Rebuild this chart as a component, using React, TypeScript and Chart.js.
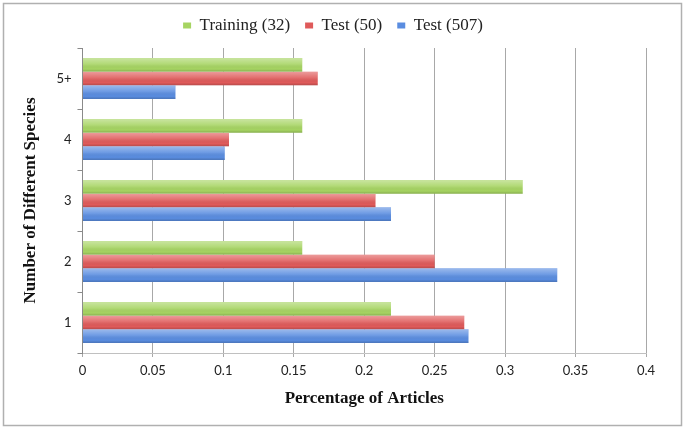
import React, { useEffect, useRef } from "react";
import { Chart, registerables } from "chart.js";

Chart.register(...registerables);

// categories, top to bottom as drawn
const categories = ["5+", "4", "3", "2", "1"];
const training32 = [0.156, 0.156, 0.3125, 0.156, 0.219];
const test50 = [0.167, 0.104, 0.208, 0.25, 0.271];
const test507 = [0.066, 0.101, 0.219, 0.337, 0.274];
const seriesLabels = ["Training (32)", "Test (50)", "Test (507)"];
const xMin = 0;
const xMax = 0.4;
const xStep = 0.05;

const SERIF = "'Liberation Serif', 'Times New Roman', serif";
const SANS = "Lato, 'Liberation Sans', sans-serif";

const framePlugin = {
  id: "frame",
  beforeDraw(chart: any) {
    const c = chart.ctx;
    c.save();
    c.fillStyle = "#ffffff";
    c.fillRect(0, 0, chart.width, chart.height);
    c.strokeStyle = "#b0b0b0";
    c.lineWidth = 1.5;
    c.strokeRect(3.5, 3.5, chart.width - 7, chart.height - 7);
    c.restore();
  },
};

const legendGapPlugin = {
  id: "legendGap",
  beforeInit(chart: any) {
    const lg = chart.legend;
    if (!lg) return;
    const orig = lg.fit;
    lg.fit = function () {
      orig.call(this);
      this.height += 4;
    };
  },
};

const shinePlugin = {
  id: "shine",
  afterDatasetsDraw(chart: any) {
    const c = chart.ctx;
    c.save();
    chart.data.datasets.forEach((_d: any, i: number) => {
      const meta = chart.getDatasetMeta(i);
      if (meta.hidden) return;
      meta.data.forEach((el: any) => {
        const top = el.y - el.height / 2;
        const bot = el.y + el.height / 2;
        const left = Math.min(el.x, el.base);
        const w = Math.abs(el.x - el.base);
        const g = c.createLinearGradient(0, top, 0, bot);
        g.addColorStop(0, "rgba(255,255,255,0.40)");
        g.addColorStop(0.45, "rgba(255,255,255,0.12)");
        g.addColorStop(0.8, "rgba(0,0,0,0.0)");
        g.addColorStop(1, "rgba(0,0,0,0.18)");
        c.fillStyle = g;
        c.fillRect(left, top, w, bot - top);
      });
    });
    c.restore();
  },
};

export default function App() {
  const ref = useRef<HTMLCanvasElement>(null);

  useEffect(() => {
    if (!ref.current) return;
    const chart = new Chart(ref.current, {
      type: "bar",
      data: {
        labels: categories,
        datasets: [
          { label: seriesLabels[0], data: training32, backgroundColor: "#a6d462", borderWidth: 0 },
          { label: seriesLabels[1], data: test50, backgroundColor: "#df5a5a", borderWidth: 0 },
          { label: seriesLabels[2], data: test507, backgroundColor: "#5a8de0", borderWidth: 0 },
        ],
      },
      options: {
        indexAxis: "y",
        responsive: false,
        animation: false,
        layout: { padding: { top: 2, right: 39, bottom: 20, left: 20 } },
        datasets: { bar: { categoryPercentage: 0.67, barPercentage: 1.0 } },
        plugins: {
          legend: {
            position: "top",
            labels: {
              font: { family: SERIF, size: 17 },
              color: "#222",
              boxWidth: 8,
              boxHeight: 6,
              padding: 15,
            },
          },
          tooltip: { enabled: false },
        },
        scales: {
          x: {
            min: xMin,
            max: xMax,
            ticks: {
              stepSize: xStep,
              font: { family: SANS, size: 13 },
              color: "#222",
              padding: 6,
              callback: (v: any) => String(Number(Number(v).toFixed(2))),
            },
            grid: { color: "#a8a8a8", drawTicks: true, tickLength: 4, lineWidth: 1 },
            border: { color: "#c0c0c0" },
            title: {
              display: true,
              text: "Percentage of Articles",
              font: { family: SERIF, size: 17, weight: "bold" },
              color: "#111",
              padding: { top: 4, bottom: 0 },
            },
          },
          y: {
            ticks: {
              font: { family: SANS, size: 13 },
              color: "#222",
              padding: 6,
            },
            grid: {
              offset: true,
              drawOnChartArea: false,
              drawTicks: true,
              tickLength: 5,
              color: "#8a8a8a",
            },
            border: { color: "#8a8a8a" },
            title: {
              display: true,
              text: "Number of Different Species",
              font: { family: SERIF, size: 17, weight: "bold" },
              color: "#111",
              padding: { top: 0, bottom: 10 },
            },
          },
        },
      },
      plugins: [framePlugin, legendGapPlugin, shinePlugin],
    });
    return () => chart.destroy();
  }, []);

  return (
    <div style={{ position: "fixed", left: 0, top: 0, width: 685, height: 429, background: "#fff" }}>
      <canvas ref={ref} width={685} height={429} style={{ width: 685, height: 429, display: "block" }} />
    </div>
  );
}
